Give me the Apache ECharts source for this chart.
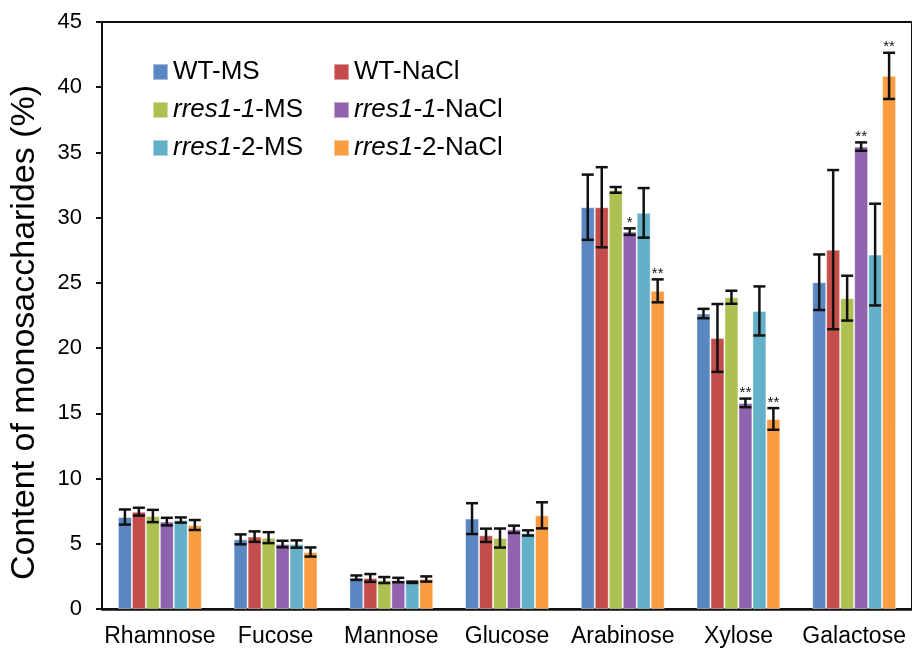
<!DOCTYPE html>
<html>
<head>
<meta charset="utf-8">
<script src="https://cdn.jsdelivr.net/npm/echarts@6/dist/echarts.min.js"></script>
<style>
    html, body { margin: 0; padding: 0; background: #fff; }
    #chart { width: 912px; height: 648px; }
</style>
</head>
<body>
<div id="chart"></div>
<script>
// 单糖类别
var categories = ['Rhamnose', 'Fucose', 'Mannose', 'Glucose', 'Arabinose', 'Xylose', 'Galactose'];

// 各系列均值与误差
var wtMS = [7.05, 5.34, 2.40, 6.93, 30.80, 22.65, 25.05];
var wtMSErr = [0.58, 0.38, 0.17, 1.18, 2.50, 0.36, 2.13];
var wtNaCl = [7.46, 5.55, 2.38, 5.65, 30.80, 20.78, 27.55];
var wtNaClErr = [0.30, 0.40, 0.30, 0.51, 3.07, 2.60, 6.10];
var r11MS = [7.13, 5.47, 2.22, 5.44, 32.13, 23.90, 23.83];
var r11MSErr = [0.47, 0.42, 0.23, 0.73, 0.22, 0.50, 1.72];
var r11NaCl = [6.70, 4.98, 2.22, 6.11, 28.93, 15.80, 35.45];
var r11NaClErr = [0.29, 0.25, 0.17, 0.28, 0.25, 0.33, 0.32];
var r12MS = [6.82, 4.98, 2.05, 5.83, 30.37, 22.85, 27.17];
var r12MSErr = [0.20, 0.28, 0.05, 0.20, 1.90, 1.88, 3.90];
var r12NaCl = [6.44, 4.37, 2.30, 7.18, 24.39, 14.57, 40.87];
var r12NaClErr = [0.38, 0.35, 0.20, 1.00, 0.88, 0.83, 1.77];

// 显著性标记
var sigNone = ['', '', '', '', '', '', ''];
var sigR11NaCl = ['', '', '', '', '*', '**', '**'];
var sigR12NaCl = ['', '', '', '', '**', '**', '**'];

var seriesNames = ['WT-MS', 'WT-NaCl', 'rres1-1-MS', 'rres1-1-NaCl', 'rres1-2-MS', 'rres1-2-NaCl'];
var seriesVals = [wtMS, wtNaCl, r11MS, r11NaCl, r12MS, r12NaCl];
var seriesErrs = [wtMSErr, wtNaClErr, r11MSErr, r11NaClErr, r12MSErr, r12NaClErr];
var seriesSig = [sigNone, sigNone, sigNone, sigR11NaCl, sigNone, sigR12NaCl];
var colors = ['#5a87c1', '#c34d4a', '#adc153', '#9063ae', '#64b0c8', '#f99c42'];

var yTicks = [0, 5, 10, 15, 20, 25, 30, 35, 40, 45];
var font = 'Liberation Sans, Arial, sans-serif';
var catGap = 0.275;

function legendName(name) {
    if (name.indexOf('rres1-1') === 0) {
        return '{i|rres1-1}{n|' + name.slice(7) + '}';
    }
    if (name.indexOf('rres1-2') === 0) {
        return '{i|rres1}{n|' + name.slice(5) + '}';
    }
    return '{n|' + name + '}';
}

var legendRich = {
    i: { fontStyle: 'italic', fontSize: 26, fontFamily: font, color: '#000' },
    n: { fontSize: 26, fontFamily: font, color: '#000' }
};

function makeLegend(left, names) {
    return {
        orient: 'vertical',
        left: left,
        top: 53,
        itemWidth: 15,
        itemHeight: 16,
        itemGap: 10,
        icon: 'rect',
        selectedMode: false,
        data: names,
        formatter: legendName,
        textStyle: { fontSize: 26, fontFamily: font, lineHeight: 28, color: '#000', rich: legendRich }
    };
}

var series = [];
for (var i = 0; i < seriesNames.length; i++) {
    series.push({
        name: seriesNames[i],
        type: 'bar',
        barGap: '0%',
        barCategoryGap: (catGap * 100) + '%',
        itemStyle: { color: colors[i], borderColor: 'rgba(255,255,255,0.45)', borderWidth: 1 },
        data: seriesVals[i]
    });
}

// 误差线 + 显著性星号
for (var k = 0; k < seriesNames.length; k++) {
    (function(idx){
        var d = [];
        for (var j = 0; j < categories.length; j++) {
            d.push([j, seriesVals[idx][j], seriesErrs[idx][j], seriesSig[idx][j]]);
        }
        series.push({
            type: 'custom',
            name: seriesNames[idx] + '-err',
            z: 10,
            silent: true,
            data: d,
            encode: { x: 0, y: 1 },
            renderItem: function(params, api) {
                var c = api.value(0), v = api.value(1), e = api.value(2);
                var band = api.size([1, 0])[0];
                var bw = band * (1 - catGap) / 6;
                var x = api.coord([c, v])[0] + (idx - 2.5) * bw;
                var yTop = api.coord([c, v + e])[1];
                var yBot = api.coord([c, v - e])[1];
                var cap = 6;
                var ls = { stroke: '#111', lineWidth: 2.5 };
                var children = [
                    { type: 'line', shape: { x1: x, y1: yTop, x2: x, y2: yBot }, style: ls },
                    { type: 'line', shape: { x1: x - cap, y1: yTop, x2: x + cap, y2: yTop }, style: ls },
                    { type: 'line', shape: { x1: x - cap, y1: yBot, x2: x + cap, y2: yBot }, style: ls }
                ];
                var sig = seriesSig[idx][params.dataIndex];
                if (sig) {
                    children.push({
                        type: 'text',
                        style: {
                            x: x, y: yTop + 2, text: sig,
                            textAlign: 'center', textVerticalAlign: 'bottom',
                            fontSize: 15, fontFamily: font, fill: '#111'
                        }
                    });
                }
                return { type: 'group', children: children };
            }
        });
    })(k);
}

var myChart = echarts.init(document.getElementById('chart'));
var option = {
    animation: false,
    backgroundColor: '#fff',
    legend: [
        makeLegend(147, ['WT-MS', 'rres1-1-MS', 'rres1-2-MS']),
        makeLegend(328, ['WT-NaCl', 'rres1-1-NaCl', 'rres1-2-NaCl'])
    ],
    grid: {
        left: 100,
        top: 22,
        width: 821,
        height: 587,
        show: true,
        borderColor: '#111',
        borderWidth: 2
    },
    xAxis: {
        type: 'category',
        data: categories,
        axisLine: { lineStyle: { color: '#111', width: 2.5 } },
        axisTick: { show: false },
        axisLabel: { fontSize: 23, fontFamily: font, color: '#000', margin: 16, interval: 0 }
    },
    yAxis: {
        type: 'value',
        min: yTicks[0],
        max: yTicks[yTicks.length - 1],
        interval: 5,
        name: 'Content of monosaccharides (%)',
        nameLocation: 'middle',
        nameGap: 60,
        nameTextStyle: { fontSize: 34, fontFamily: font, color: '#000', padding: [0, 34, 0, 0] },
        axisLine: { show: true, lineStyle: { color: '#111', width: 2 } },
        axisTick: { show: true, length: 6, lineStyle: { color: '#111', width: 2 } },
        axisLabel: { fontSize: 22, fontFamily: font, color: '#000', margin: 20 },
        splitLine: { show: false }
    },
    series: series
};
myChart.setOption(option);
</script>
</body>
</html>
